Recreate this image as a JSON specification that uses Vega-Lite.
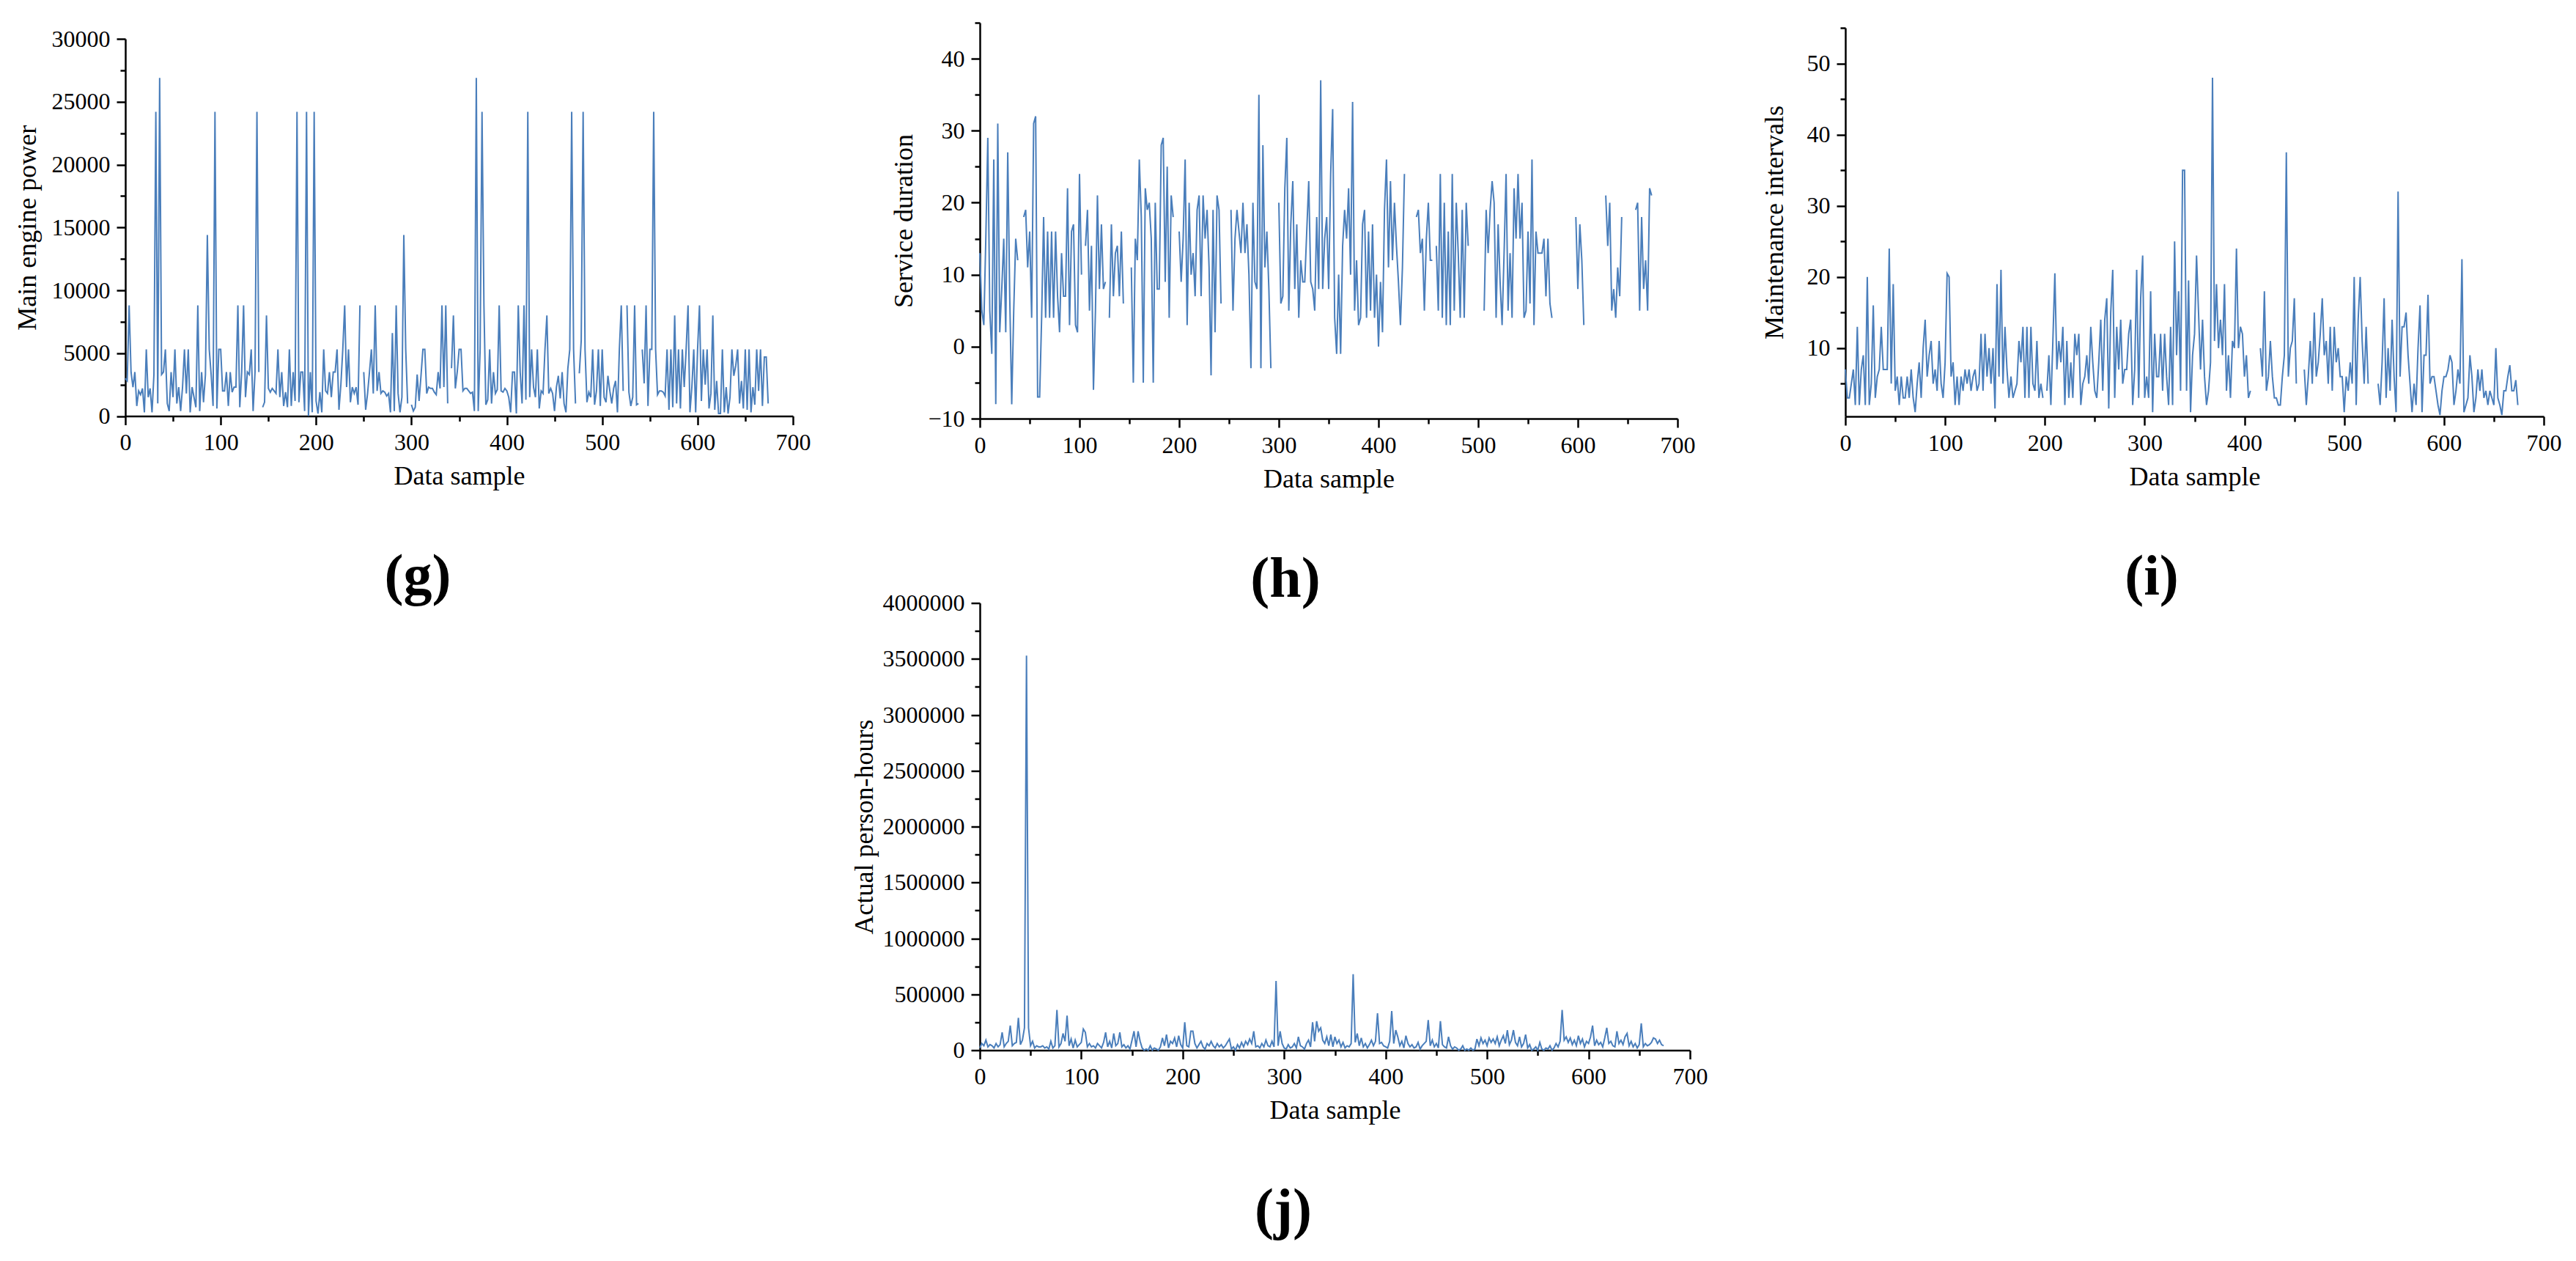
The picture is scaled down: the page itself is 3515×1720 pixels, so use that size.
{
"$schema": "https://vega.github.io/schema/vega-lite/v6.json",
"background": "white",
"padding": {"left": 19, "top": 15, "right": 10, "bottom": 5},
"config": {
 "view": {"stroke": null},
 "font": "Liberation Serif",
 "axis": {"grid": false, "domainColor": "#000", "domainWidth": 2.5, "tickColor": "#000", "tickWidth": 2.5, "labelColor": "#000", "labelFont": "Liberation Serif", "labelFontSize": 32, "titleFont": "Liberation Serif", "titleFontSize": 36, "titleFontWeight": "normal", "titleColor": "#000", "labelPadding": 9, "labelOverlap": false, "labelFlush": false, "labelBound": false},
 "title": {"font": "Liberation Serif", "fontSize": 78, "fontWeight": "bold", "color": "#000"},
 "line": {"color": "#4a7ebb", "strokeWidth": 2}
},
"data": {"values": [
{"x":0,"g":3000,"h":13,"i":7,"j":20000},{"x":2,"g":2800,"h":5,"i":3,"j":60000},{"x":4,"g":8800,"h":3,"i":3,"j":40000},{"x":6,"g":3500,"h":15,"i":5,"j":90000},{"x":8,"g":2300,"h":29,"i":7,"j":30000},{"x":10,"g":3500,"h":5,"i":2,"j":50000},{"x":12,"g":800,"h":-1,"i":13,"j":40000},{"x":14,"g":2000,"h":26,"i":2,"j":20000},{"x":16,"g":1700,"h":-8,"i":7,"j":60000},{"x":18,"g":2200,"h":31,"i":9,"j":30000},
{"x":20,"g":300,"h":2,"i":2,"j":50000},{"x":22,"g":5300,"h":8,"i":20,"j":160000},{"x":24,"g":1500,"h":15,"i":2,"j":30000},{"x":26,"g":2200,"h":2,"i":5,"j":60000},{"x":28,"g":300,"h":27,"i":16,"j":80000},{"x":30,"g":3300,"h":7,"i":3,"j":220000},{"x":32,"g":24200,"h":-8,"i":6,"j":40000},{"x":34,"g":1000,"h":5,"i":7,"j":60000},{"x":36,"g":26900,"h":15,"i":13,"j":70000},{"x":38,"g":3300,"h":12,"i":7,"j":290000},
{"x":40,"g":3500,"h":null,"i":7,"j":50000},{"x":42,"g":5300,"h":null,"i":7,"j":90000},{"x":44,"g":1000,"h":18,"i":24,"j":200000},{"x":46,"g":400,"h":19,"i":5,"j":3530000},{"x":48,"g":3500,"h":11,"i":19,"j":200000},{"x":50,"g":1500,"h":16,"i":4,"j":40000},{"x":52,"g":5300,"h":4,"i":6,"j":80000},{"x":54,"g":1000,"h":31,"i":2,"j":20000},{"x":56,"g":2300,"h":32,"i":6,"j":40000},{"x":58,"g":400,"h":-7,"i":3,"j":30000},
{"x":60,"g":2300,"h":-7,"i":3,"j":30000},{"x":62,"g":5300,"h":4,"i":6,"j":40000},{"x":64,"g":1800,"h":18,"i":3,"j":20000},{"x":66,"g":5300,"h":4,"i":7,"j":30000},{"x":68,"g":300,"h":16,"i":3,"j":10000},{"x":70,"g":2300,"h":4,"i":1,"j":80000},{"x":72,"g":1500,"h":16,"i":5,"j":20000},{"x":74,"g":700,"h":4,"i":8,"j":40000},{"x":76,"g":8800,"h":16,"i":3,"j":360000},{"x":78,"g":400,"h":7,"i":10,"j":30000},
{"x":80,"g":3500,"h":2,"i":14,"j":60000},{"x":82,"g":1100,"h":13,"i":6,"j":150000},{"x":84,"g":3300,"h":7,"i":9,"j":80000},{"x":86,"g":14400,"h":7,"i":11,"j":310000},{"x":88,"g":5300,"h":22,"i":5,"j":40000},{"x":90,"g":3300,"h":3,"i":7,"j":100000},{"x":92,"g":800,"h":16,"i":4,"j":20000},{"x":94,"g":24200,"h":17,"i":11,"j":90000},{"x":96,"g":600,"h":3,"i":5,"j":30000},{"x":98,"g":5300,"h":2,"i":3,"j":50000},
{"x":100,"g":5300,"h":24,"i":8,"j":70000},{"x":102,"g":2000,"h":10,"i":20.5,"j":190000},{"x":104,"g":2000,"h":null,"i":20,"j":160000},{"x":106,"g":3500,"h":14,"i":6,"j":30000},{"x":108,"g":800,"h":19,"i":8,"j":60000},{"x":110,"g":3500,"h":5,"i":2,"j":30000},{"x":112,"g":1900,"h":14,"i":6,"j":40000},{"x":114,"g":2300,"h":-6,"i":2,"j":20000},{"x":116,"g":2300,"h":5,"i":6,"j":60000},{"x":118,"g":8800,"h":21,"i":4,"j":40000},
{"x":120,"g":700,"h":8,"i":7,"j":20000},{"x":122,"g":3500,"h":17,"i":5,"j":70000},{"x":124,"g":8800,"h":8,"i":7,"j":160000},{"x":126,"g":1500,"h":9,"i":4,"j":30000},{"x":128,"g":3500,"h":null,"i":6,"j":80000},{"x":130,"g":3300,"h":4,"i":7,"j":20000},{"x":132,"g":5300,"h":17,"i":4,"j":150000},{"x":134,"g":400,"h":7,"i":5,"j":40000},{"x":136,"g":3500,"h":13,"i":12,"j":60000},{"x":138,"g":24200,"h":14,"i":4,"j":160000},
{"x":140,"g":3500,"h":7,"i":12,"j":30000},{"x":142,"g":null,"h":16,"i":6,"j":50000},{"x":144,"g":700,"h":6,"i":10,"j":20000},{"x":146,"g":1100,"h":null,"i":5,"j":40000},{"x":148,"g":8000,"h":null,"i":10,"j":10000},{"x":150,"g":2200,"h":null,"i":1.5,"j":90000},{"x":152,"g":1900,"h":11,"i":19,"j":170000},{"x":154,"g":2200,"h":-5,"i":6,"j":30000},{"x":156,"g":2000,"h":15,"i":21,"j":170000},{"x":158,"g":1800,"h":12,"i":5,"j":80000},
{"x":160,"g":5300,"h":26,"i":13,"j":20000},{"x":162,"g":1500,"h":18,"i":7,"j":0},{"x":164,"g":3500,"h":-5,"i":3,"j":10000},{"x":166,"g":800,"h":22,"i":6,"j":0},{"x":168,"g":1900,"h":19,"i":3,"j":40000},{"x":170,"g":700,"h":20,"i":4,"j":0},{"x":172,"g":5300,"h":15,"i":5,"j":20000},{"x":174,"g":800,"h":-5,"i":11,"j":10000},{"x":176,"g":3500,"h":20,"i":8,"j":0},{"x":178,"g":1200,"h":8,"i":13,"j":30000},
{"x":180,"g":24200,"h":8,"i":3,"j":110000},{"x":182,"g":1100,"h":28,"i":13,"j":40000},{"x":184,"g":3500,"h":29,"i":3,"j":140000},{"x":186,"g":3500,"h":9,"i":13,"j":20000},{"x":188,"g":400,"h":25,"i":5,"j":80000},{"x":190,"g":24200,"h":4,"i":4,"j":60000},{"x":192,"g":0,"h":21,"i":11,"j":110000},{"x":194,"g":3500,"h":18,"i":3,"j":30000},{"x":196,"g":300,"h":null,"i":5,"j":130000},{"x":198,"g":24200,"h":null,"i":3,"j":50000},
{"x":200,"g":1200,"h":16,"i":null,"j":20000},{"x":202,"g":200,"h":9,"i":4,"j":250000},{"x":204,"g":1900,"h":15,"i":9,"j":40000},{"x":206,"g":300,"h":26,"i":2,"j":30000},{"x":208,"g":5300,"h":3,"i":11,"j":170000},{"x":210,"g":2000,"h":20,"i":20.5,"j":170000},{"x":212,"g":1800,"h":10,"i":7,"j":60000},{"x":214,"g":3500,"h":13,"i":11,"j":20000},{"x":216,"g":1500,"h":7,"i":8,"j":50000},{"x":218,"g":3500,"h":19,"i":13,"j":80000},
{"x":220,"g":3500,"h":21,"i":2,"j":30000},{"x":222,"g":5300,"h":7,"i":11,"j":10000},{"x":224,"g":500,"h":21,"i":3,"j":60000},{"x":226,"g":2500,"h":15,"i":8,"j":40000},{"x":228,"g":5300,"h":19,"i":3,"j":80000},{"x":230,"g":8800,"h":11,"i":12,"j":40000},{"x":232,"g":2300,"h":-4,"i":9,"j":20000},{"x":234,"g":5300,"h":19,"i":12,"j":60000},{"x":236,"g":1100,"h":2,"i":2,"j":30000},{"x":238,"g":2300,"h":21,"i":5,"j":50000},
{"x":240,"g":1800,"h":19,"i":6,"j":20000},{"x":242,"g":2300,"h":6,"i":9,"j":40000},{"x":244,"g":900,"h":null,"i":5,"j":70000},{"x":246,"g":8800,"h":null,"i":13,"j":100000},{"x":248,"g":null,"h":null,"i":8,"j":10000},{"x":250,"g":3500,"h":null,"i":4,"j":30000},{"x":252,"g":500,"h":19,"i":3,"j":0},{"x":254,"g":1800,"h":5,"i":8,"j":50000},{"x":256,"g":3500,"h":15,"i":14,"j":20000},{"x":258,"g":5300,"h":19,"i":4,"j":70000},
{"x":260,"g":1800,"h":16,"i":14,"j":30000},{"x":262,"g":8800,"h":13,"i":17,"j":80000},{"x":264,"g":2000,"h":20,"i":1.5,"j":50000},{"x":266,"g":3500,"h":13,"i":15,"j":100000},{"x":268,"g":1800,"h":17,"i":21,"j":60000},{"x":270,"g":2000,"h":10,"i":3,"j":170000},{"x":272,"g":1900,"h":-3,"i":13,"j":30000},{"x":274,"g":1600,"h":20,"i":7,"j":40000},{"x":276,"g":1800,"h":9,"i":14,"j":20000},{"x":278,"g":300,"h":8,"i":5,"j":60000},
{"x":280,"g":6600,"h":35,"i":7,"j":30000},{"x":282,"g":400,"h":-3,"i":7,"j":90000},{"x":284,"g":8800,"h":28,"i":12,"j":40000},{"x":286,"g":1800,"h":11,"i":14,"j":30000},{"x":288,"g":300,"h":16,"i":2,"j":80000},{"x":290,"g":1500,"h":8,"i":7,"j":30000},{"x":292,"g":14400,"h":-3,"i":21,"j":620000},{"x":294,"g":5300,"h":null,"i":3,"j":40000},{"x":296,"g":1000,"h":null,"i":17,"j":170000},{"x":298,"g":null,"h":null,"i":23,"j":60000},
{"x":300,"g":900,"h":20,"i":3,"j":20000},{"x":302,"g":400,"h":6,"i":6,"j":10000},{"x":304,"g":700,"h":7,"i":3,"j":50000},{"x":306,"g":3300,"h":22,"i":18,"j":20000},{"x":308,"g":1200,"h":29,"i":1,"j":30000},{"x":310,"g":3200,"h":5,"i":12,"j":60000},{"x":312,"g":5300,"h":17,"i":6,"j":20000},{"x":314,"g":5300,"h":23,"i":6,"j":120000},{"x":316,"g":1800,"h":8,"i":12,"j":40000},{"x":318,"g":2300,"h":17,"i":4,"j":30000},
{"x":320,"g":2200,"h":4,"i":12,"j":10000},{"x":322,"g":2200,"h":12,"i":6,"j":60000},{"x":324,"g":1900,"h":9,"i":2,"j":90000},{"x":326,"g":1700,"h":9,"i":13,"j":30000},{"x":328,"g":3500,"h":16,"i":2,"j":250000},{"x":330,"g":2200,"h":23,"i":25,"j":80000},{"x":332,"g":8800,"h":9,"i":9,"j":260000},{"x":334,"g":2300,"h":8,"i":18,"j":170000},{"x":336,"g":8800,"h":5,"i":4,"j":200000},{"x":338,"g":1000,"h":18,"i":35,"j":90000},
{"x":340,"g":null,"h":8,"i":35,"j":60000},{"x":342,"g":3800,"h":37,"i":4,"j":120000},{"x":344,"g":8000,"h":8,"i":19.5,"j":40000},{"x":346,"g":2200,"h":15,"i":1,"j":140000},{"x":348,"g":3500,"h":18,"i":9,"j":30000},{"x":350,"g":5300,"h":8,"i":12,"j":120000},{"x":352,"g":5300,"h":24,"i":23,"j":60000},{"x":354,"g":2000,"h":33,"i":15,"j":90000},{"x":356,"g":2200,"h":4,"i":7,"j":30000},{"x":358,"g":2200,"h":-1,"i":14,"j":70000},
{"x":360,"g":2000,"h":10,"i":6,"j":20000},{"x":362,"g":1800,"h":-1,"i":2,"j":40000},{"x":364,"g":1900,"h":14,"i":4,"j":30000},{"x":366,"g":400,"h":19,"i":8,"j":60000},{"x":368,"g":26900,"h":15,"i":48,"j":680000},{"x":370,"g":400,"h":22,"i":11,"j":70000},{"x":372,"g":5300,"h":10,"i":19,"j":150000},{"x":374,"g":24200,"h":34,"i":10,"j":40000},{"x":376,"g":8800,"h":5,"i":14,"j":110000},{"x":378,"g":900,"h":12,"i":9,"j":30000},
{"x":380,"g":1300,"h":3,"i":19,"j":60000},{"x":382,"g":5300,"h":4,"i":4,"j":20000},{"x":384,"g":1000,"h":17,"i":9,"j":50000},{"x":386,"g":3500,"h":19,"i":3,"j":90000},{"x":388,"g":1800,"h":4,"i":11,"j":40000},{"x":390,"g":2100,"h":16,"i":10,"j":80000},{"x":392,"g":8800,"h":5,"i":24,"j":330000},{"x":394,"g":2000,"h":17,"i":10,"j":60000},{"x":396,"g":1900,"h":4,"i":13,"j":70000},{"x":398,"g":2200,"h":10,"i":12,"j":40000},
{"x":400,"g":2000,"h":0,"i":6,"j":30000},{"x":402,"g":1500,"h":9,"i":9,"j":20000},{"x":404,"g":300,"h":2,"i":3,"j":80000},{"x":406,"g":3500,"h":19,"i":4,"j":350000},{"x":408,"g":3500,"h":26,"i":null,"j":60000},{"x":410,"g":200,"h":11,"i":null,"j":180000},{"x":412,"g":8800,"h":23,"i":null,"j":120000},{"x":414,"g":3500,"h":12,"i":null,"j":40000},{"x":416,"g":1000,"h":20,"i":10,"j":80000},{"x":418,"g":8800,"h":14,"i":6,"j":20000},
{"x":420,"g":1300,"h":9,"i":18,"j":130000},{"x":422,"g":24200,"h":3,"i":4,"j":60000},{"x":424,"g":1500,"h":11,"i":6,"j":30000},{"x":426,"g":5300,"h":24,"i":11,"j":50000},{"x":428,"g":2300,"h":null,"i":6,"j":20000},{"x":430,"g":1500,"h":null,"i":3,"j":30000},{"x":432,"g":5300,"h":null,"i":3,"j":70000},{"x":434,"g":600,"h":null,"i":2,"j":10000},{"x":436,"g":2000,"h":null,"i":2,"j":40000},{"x":438,"g":1800,"h":18,"i":6,"j":60000},
{"x":440,"g":5300,"h":19,"i":9,"j":80000},{"x":442,"g":8000,"h":13,"i":37.5,"j":270000},{"x":444,"g":1800,"h":15,"i":6,"j":40000},{"x":446,"g":2200,"h":5,"i":10,"j":90000},{"x":448,"g":1800,"h":15,"i":11,"j":30000},{"x":450,"g":400,"h":20,"i":17,"j":60000},{"x":452,"g":2300,"h":12,"i":5,"j":20000},{"x":454,"g":3200,"h":12,"i":null,"j":260000},{"x":456,"g":1400,"h":null,"i":null,"j":50000},{"x":458,"g":3500,"h":14,"i":null,"j":30000},
{"x":460,"g":1000,"h":5,"i":7,"j":20000},{"x":462,"g":300,"h":24,"i":2,"j":120000},{"x":464,"g":3800,"h":4,"i":6,"j":40000},{"x":466,"g":5300,"h":20,"i":11,"j":10000},{"x":468,"g":24200,"h":3,"i":5,"j":30000},{"x":470,"g":5300,"h":16,"i":15,"j":20000},{"x":472,"g":1000,"h":3,"i":6,"j":0},{"x":474,"g":null,"h":24,"i":8,"j":10000},{"x":476,"g":3400,"h":5,"i":12,"j":40000},{"x":478,"g":6000,"h":20,"i":17,"j":0},
{"x":480,"g":24200,"h":13,"i":9,"j":10000},{"x":482,"g":5300,"h":4,"i":11,"j":0},{"x":484,"g":1100,"h":19,"i":5,"j":20000},{"x":486,"g":1900,"h":4,"i":13,"j":0},{"x":488,"g":1500,"h":20,"i":4,"j":10000},{"x":490,"g":5300,"h":14,"i":13,"j":100000},{"x":492,"g":900,"h":null,"i":8,"j":40000},{"x":494,"g":2000,"h":null,"i":10,"j":110000},{"x":496,"g":5300,"h":null,"i":6,"j":60000},{"x":498,"g":800,"h":null,"i":6,"j":90000},
{"x":500,"g":5300,"h":null,"i":1,"j":40000},{"x":502,"g":1500,"h":null,"i":6,"j":110000},{"x":504,"g":1100,"h":null,"i":4,"j":70000},{"x":506,"g":3200,"h":5,"i":8,"j":100000},{"x":508,"g":2000,"h":19,"i":5,"j":60000},{"x":510,"g":1000,"h":13,"i":20,"j":120000},{"x":512,"g":2200,"h":19,"i":2,"j":40000},{"x":514,"g":2800,"h":23,"i":14,"j":90000},{"x":516,"g":300,"h":20,"i":20,"j":130000},{"x":518,"g":5300,"h":4,"i":11,"j":60000},
{"x":520,"g":8800,"h":17,"i":5,"j":180000},{"x":522,"g":2000,"h":9,"i":13,"j":50000},{"x":524,"g":null,"h":3,"i":5,"j":90000},{"x":526,"g":8800,"h":13,"i":null,"j":180000},{"x":528,"g":1900,"h":24,"i":null,"j":70000},{"x":530,"g":800,"h":5,"i":null,"j":40000},{"x":532,"g":1500,"h":13,"i":null,"j":120000},{"x":534,"g":8800,"h":4,"i":5,"j":30000},{"x":536,"g":900,"h":22,"i":2,"j":60000},{"x":538,"g":1000,"h":15,"i":8,"j":140000},
{"x":540,"g":null,"h":24,"i":17,"j":20000},{"x":542,"g":5300,"h":15,"i":3,"j":50000},{"x":544,"g":2600,"h":20,"i":10,"j":0},{"x":546,"g":8800,"h":4,"i":4,"j":10000},{"x":548,"g":800,"h":5,"i":14,"j":30000},{"x":550,"g":5300,"h":16,"i":6,"j":0},{"x":552,"g":5300,"h":6,"i":1,"j":70000},{"x":554,"g":24200,"h":26,"i":32,"j":10000},{"x":556,"g":5300,"h":3,"i":6,"j":0},{"x":558,"g":1700,"h":16,"i":13,"j":20000},
{"x":560,"g":2000,"h":13,"i":13,"j":10000},{"x":562,"g":2000,"h":13,"i":15,"j":40000},{"x":564,"g":1900,"h":13,"i":9,"j":0},{"x":566,"g":1600,"h":15,"i":5,"j":20000},{"x":568,"g":5300,"h":7,"i":1,"j":60000},{"x":570,"g":500,"h":15,"i":5,"j":30000},{"x":572,"g":5300,"h":6,"i":2,"j":80000},{"x":574,"g":700,"h":4,"i":10,"j":360000},{"x":576,"g":8000,"h":null,"i":16,"j":90000},{"x":578,"g":1000,"h":null,"i":1,"j":120000},
{"x":580,"g":5300,"h":null,"i":9,"j":70000},{"x":582,"g":600,"h":null,"i":9,"j":110000},{"x":584,"g":5300,"h":null,"i":17.5,"j":50000},{"x":586,"g":2300,"h":null,"i":5,"j":90000},{"x":588,"g":5300,"h":null,"i":6,"j":40000},{"x":590,"g":8800,"h":null,"i":6,"j":130000},{"x":592,"g":300,"h":null,"i":4,"j":60000},{"x":594,"g":2300,"h":null,"i":2,"j":100000},{"x":596,"g":5300,"h":null,"i":0.6,"j":30000},{"x":598,"g":300,"h":18,"i":4,"j":80000},
{"x":600,"g":5300,"h":8,"i":6,"j":60000},{"x":602,"g":8800,"h":17,"i":6,"j":120000},{"x":604,"g":1200,"h":12,"i":7,"j":220000},{"x":606,"g":5300,"h":3,"i":9,"j":40000},{"x":608,"g":2500,"h":null,"i":8,"j":90000},{"x":610,"g":5300,"h":null,"i":2,"j":50000},{"x":612,"g":600,"h":null,"i":4,"j":70000},{"x":614,"g":1800,"h":null,"i":7,"j":30000},{"x":616,"g":8000,"h":null,"i":5,"j":110000},{"x":618,"g":500,"h":null,"i":22.5,"j":200000},
{"x":620,"g":2800,"h":null,"i":1,"j":60000},{"x":622,"g":200,"h":null,"i":2,"j":80000},{"x":624,"g":200,"h":null,"i":3,"j":40000},{"x":626,"g":5300,"h":null,"i":9,"j":30000},{"x":628,"g":300,"h":21,"i":6,"j":170000},{"x":630,"g":2300,"h":14,"i":1,"j":60000},{"x":632,"g":200,"h":20,"i":3,"j":90000},{"x":634,"g":1500,"h":5,"i":7,"j":50000},{"x":636,"g":5300,"h":8,"i":4,"j":120000},{"x":638,"g":3200,"h":4,"i":7,"j":150000},
{"x":640,"g":4000,"h":11,"i":3,"j":40000},{"x":642,"g":5300,"h":7,"i":4,"j":80000},{"x":644,"g":1000,"h":18,"i":2,"j":30000},{"x":646,"g":2800,"h":null,"i":4,"j":60000},{"x":648,"g":600,"h":null,"i":3,"j":20000},{"x":650,"g":5300,"h":null,"i":2,"j":50000},{"x":652,"g":500,"h":null,"i":10,"j":240000},{"x":654,"g":5300,"h":null,"i":3,"j":30000},{"x":656,"g":300,"h":null,"i":2,"j":60000},{"x":658,"g":2300,"h":19,"i":0.6,"j":40000},
{"x":660,"g":900,"h":20,"i":4,"j":50000},{"x":662,"g":5300,"h":5,"i":4,"j":70000},{"x":664,"g":2000,"h":18,"i":6,"j":110000},{"x":666,"g":5300,"h":8,"i":7.6,"j":100000},{"x":668,"g":800,"h":12,"i":4,"j":60000},{"x":670,"g":4700,"h":5,"i":4,"j":90000},{"x":672,"g":4700,"h":22,"i":5.5,"j":50000},{"x":674,"g":1000,"h":21,"i":2,"j":40000}
]},
"columns": 3,
"align": "none",
"bounds": "flush",
"spacing": {"row": 251.5, "column": 0},
"concat": [
 {
  "width": 1163, "height": 540,
  "title": {"text": "(g)", "orient": "bottom", "frame": "group", "anchor": "middle", "dx": -182.5, "offset": 119.5, "baseline": "middle"},
  "mark": {"type": "line", "invalid": "break-paths-filter-domains"},
  "encoding": {
   "x": {"field": "x", "type": "quantitative", "scale": {"domain": [0, 700], "nice": false, "zero": false, "range": [0, 911]},
    "axis": {"values": [0,50,100,150,200,250,300,350,400,450,500,550,600,650,700], "format": "d", "offset": -3.5, "labelExpr": "datum.value % 100 === 0 ? datum.label : ''", "tickSize": {"condition": {"test": "datum.value % 100 === 0", "value": 12}, "value": 7}, "title": "Data sample", "titleY": 93, "titleBaseline": "alphabetic"}},
   "y": {"field": "g", "type": "quantitative", "scale": {"domain": [0, 30000], "nice": false, "zero": false, "range": [536.5, 22]},
    "axis": {"values": [0,2500,5000,7500,10000,12500,15000,17500,20000,22500,25000,27500,30000], "format": "d", "labelExpr": "datum.value % 5000 === 0 ? datum.label : ''", "tickSize": {"condition": {"test": "datum.value % 5000 === 0", "value": 12}, "value": 7}, "title": "Main engine power", "titleX": -134, "titleBaseline": "middle"}}
  }
 },
 {
  "width": 1181, "height": 540,
  "title": {"text": "(h)", "orient": "bottom", "frame": "group", "anchor": "middle", "dx": -173.5, "offset": 119.5, "baseline": "middle"},
  "mark": {"type": "line", "invalid": "break-paths-filter-domains"},
  "encoding": {
   "x": {"field": "x", "type": "quantitative", "scale": {"domain": [0, 700], "nice": false, "zero": false, "range": [0, 952]},
    "axis": {"values": [0,50,100,150,200,250,300,350,400,450,500,550,600,650,700], "format": "d", "labelExpr": "datum.value % 100 === 0 ? datum.label : ''", "tickSize": {"condition": {"test": "datum.value % 100 === 0", "value": 12}, "value": 7}, "title": "Data sample", "titleY": 93, "titleBaseline": "alphabetic"}},
   "y": {"field": "h", "type": "quantitative", "scale": {"domain": [-10, 45], "nice": false, "zero": false},
    "axis": {"values": [-10,-5,0,5,10,15,20,25,30,35,40,45], "format": "d", "labelExpr": "datum.value % 10 === 0 ? datum.label : ''", "tickSize": {"condition": {"test": "datum.value % 10 === 0", "value": 12}, "value": 7}, "title": "Service duration", "titleX": -104, "titleBaseline": "middle"}}
  }
 },
 {
  "width": 953, "height": 540,
  "title": {"text": "(i)", "orient": "bottom", "frame": "group", "anchor": "middle", "dx": -58.5, "offset": 119.5, "baseline": "middle"},
  "mark": {"type": "line", "invalid": "break-paths-filter-domains"},
  "encoding": {
   "x": {"field": "x", "type": "quantitative", "scale": {"domain": [0, 700], "nice": false, "zero": false},
    "axis": {"values": [0,50,100,150,200,250,300,350,400,450,500,550,600,650,700], "format": "d", "offset": -3, "labelExpr": "datum.value % 100 === 0 ? datum.label : ''", "tickSize": {"condition": {"test": "datum.value % 100 === 0", "value": 12}, "value": 7}, "title": "Data sample", "titleY": 93, "titleBaseline": "alphabetic"}},
   "y": {"field": "i", "type": "quantitative", "scale": {"domain": [0.4, 55], "nice": false, "zero": false, "range": [537, 7]},
    "axis": {"values": [5,10,15,20,25,30,35,40,45,50,55], "format": "d", "labelExpr": "datum.value % 10 === 0 ? datum.label : ''", "tickSize": {"condition": {"test": "datum.value % 10 === 0", "value": 12}, "value": 7}, "title": "Maintenance intervals", "titleX": -97, "titleBaseline": "middle"}}
  }
 },
 {
  "width": 1166, "height": 610,
  "data": {"values": []},
  "mark": {"type": "point", "opacity": 0}
 },
 {
  "width": 969, "height": 610,
  "title": {"text": "(j)", "orient": "bottom", "frame": "group", "anchor": "middle", "dx": -70.5, "offset": 119.5, "baseline": "middle"},
  "mark": {"type": "line", "invalid": "break-paths-filter-domains"},
  "encoding": {
   "x": {"field": "x", "type": "quantitative", "scale": {"domain": [0, 700], "nice": false, "zero": false},
    "axis": {"values": [0,50,100,150,200,250,300,350,400,450,500,550,600,650,700], "format": "d", "labelExpr": "datum.value % 100 === 0 ? datum.label : ''", "tickSize": {"condition": {"test": "datum.value % 100 === 0", "value": 12}, "value": 7}, "title": "Data sample", "titleY": 93, "titleBaseline": "alphabetic"}},
   "y": {"field": "j", "type": "quantitative", "scale": {"domain": [0, 4000000], "nice": false, "zero": false},
    "axis": {"values": [0,250000,500000,750000,1000000,1250000,1500000,1750000,2000000,2250000,2500000,2750000,3000000,3250000,3500000,3750000,4000000], "format": "d", "labelExpr": "datum.value % 500000 === 0 ? datum.label : ''", "tickSize": {"condition": {"test": "datum.value % 500000 === 0", "value": 12}, "value": 7}, "title": "Actual person-hours", "titleX": -158, "titleBaseline": "middle"}}
  }
 }
]
}
